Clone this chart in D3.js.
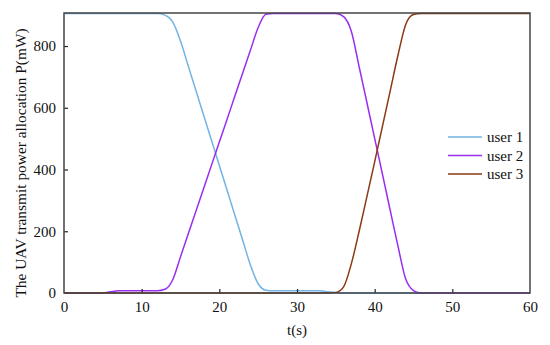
<!DOCTYPE html>
<html>
<head>
<meta charset="utf-8">
<script src="https://cdn.jsdelivr.net/npm/d3@7"></script>
<style>
  html, body { margin: 0; padding: 0; background: #fff; }
  svg { display: block; }
  text { font-family: "Liberation Serif", "Times New Roman", serif; fill: #111; }
</style>
</head>
<body>
<svg id="chart" width="550" height="345"></svg>
<script>
// ---- data ----
const time = d3.range(0, 61); // seconds 0..60
const seriesNames = ["user 1", "user 2", "user 3"];
const user1 = [905,905,905,905,905,905,905,905,905,905,905,905,905,900,878,816,735,655,574,494,413,333,252,172,91,30,9,7,7,7,7,7,7,7,4,1,0,0,0,0,0,0,0,0,0,0,0,0,0,0,0,0,0,0,0,0,0,0,0,0,0];
const user2 = [0,0,0,0,0,0,4,7,7,7,7,7,7,12,43,117,192,266,340,415,489,563,638,712,786,860,903,905,905,905,905,905,905,905,905,905,895,847,733,617,501,385,268,152,45,8,0,0,0,0,0,0,0,0,0,0,0,0,0,0,0];
const user3 = [0,0,0,0,0,0,0,0,0,0,0,0,0,0,0,0,0,0,0,0,0,0,0,0,0,0,0,0,0,0,0,0,0,0,0,2,20,95,200,312,425,540,655,770,870,902,905,905,905,905,905,905,905,905,905,905,905,905,905,905,905];
const xTicks = [0, 10, 20, 30, 40, 50, 60];
const yTicks = [0, 200, 400, 600, 800];
const colors = ["#72b4e4", "#9a2ef0", "#8b3a14"];

// ---- layout ----
const svg = d3.select("#chart");
const L = 64, R = 530, T = 13, B = 293;
const x = d3.scaleLinear().domain([0, 60]).range([L, R]);
const y = d3.scaleLinear().domain([0, 907]).range([B, T]);

const frameColor = "#444";

const all = [user1, user2, user3];
const line = d3.line()
  .x((d, i) => x(time[i]))
  .y(d => y(d))
  .curve(d3.curveMonotoneX);

const plot = svg.append("g");
all.forEach((vals, k) => {
  plot.append("path")
    .datum(vals)
    .attr("d", line)
    .attr("fill", "none")
    .attr("stroke", colors[k])
    .attr("stroke-width", 1.5);
});

// axes
const xAxis = d3.axisBottom(x).tickValues(xTicks).tickSizeInner(-4).tickSizeOuter(0).tickPadding(8);
const gx = svg.append("g").attr("transform", `translate(0,${B})`).call(xAxis);
gx.select(".domain").remove();
gx.selectAll(".tick line").attr("stroke", "#222").attr("stroke-width", 1.2)
  .filter(d => d === 0 || d === 60).remove();
gx.selectAll(".tick text").attr("font-size", 15).attr("font-family", "Liberation Serif, serif").attr("fill", "#111");

const yAxis = d3.axisLeft(y).tickValues(yTicks).tickSizeInner(-4).tickSizeOuter(0).tickPadding(8);
const gy = svg.append("g").attr("transform", `translate(${L},0)`).call(yAxis);
gy.select(".domain").remove();
gy.selectAll(".tick line").attr("stroke", "#222").attr("stroke-width", 1.2)
  .filter(d => d === 0).remove();
gy.selectAll(".tick text").attr("font-size", 15).attr("font-family", "Liberation Serif, serif").attr("fill", "#111");

// frame
svg.append("rect")
  .attr("x", L).attr("y", T).attr("width", R - L).attr("height", B - T)
  .attr("fill", "none").attr("stroke", frameColor).attr("stroke-width", 1.5);

// labels
svg.append("text")
  .attr("x", (L + R) / 2).attr("y", 335)
  .attr("text-anchor", "middle").attr("font-size", 15)
  .text("t(s)");

svg.append("text")
  .attr("transform", `translate(26,163) rotate(-90)`)
  .attr("text-anchor", "middle").attr("font-size", 15.4)
  .text("The UAV transmit power allocation P(mW)");

// legend
const legend = svg.append("g");
seriesNames.forEach((name, k) => {
  const yy = 137 + k * 18.5;
  legend.append("line")
    .attr("x1", 448).attr("x2", 482).attr("y1", yy).attr("y2", yy)
    .attr("stroke", colors[k]).attr("stroke-width", 1.5);
  legend.append("text")
    .attr("x", 487).attr("y", yy + 5).attr("font-size", 15)
    .text(name);
});
</script>
</body>
</html>
